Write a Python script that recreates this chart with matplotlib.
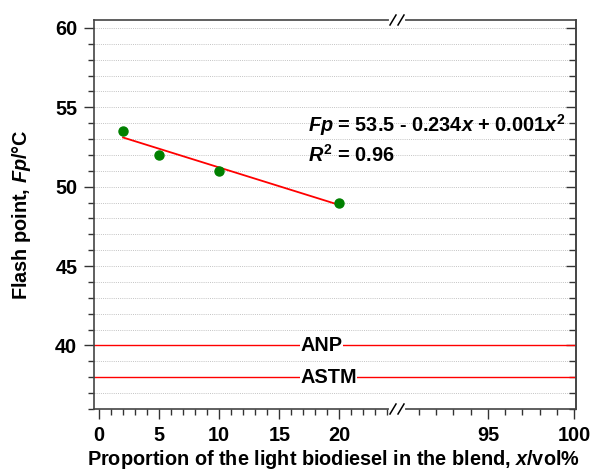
import numpy as np
import matplotlib
matplotlib.use('Agg')
import matplotlib.pyplot as plt
from matplotlib.ticker import FixedLocator, NullFormatter

plt.rcParams['font.family'] = ['Liberation Sans', 'DejaVu Sans']
plt.rcParams['font.weight'] = 'bold'
plt.rcParams['mathtext.fontset'] = 'custom'
plt.rcParams['mathtext.rm'] = 'Liberation Sans:bold'
plt.rcParams['mathtext.it'] = 'Liberation Sans:italic:bold'
plt.rcParams['mathtext.bf'] = 'Liberation Sans:bold'

# measured data
x_data = [2, 5, 10, 20]
fp_data = [53.5, 52.0, 51.0, 49.0]
# fitted line as drawn (end points)
fit_x = [2, 20]
fit_y = [53.1, 48.85]
# limits
anp_limit = 40
astm_limit = 38
x_major = [0, 5, 10, 15, 20, 95, 100]
x_major_labels = ['0', '5', '10', '15', '20', '95', '100']
y_major = [40, 45, 50, 55, 60]

# broken x axis: 0..24.75 then 89.7..100 (stretched)
brk_lo, brk_hi, stretch = 24.75, 89.7, 1.437

def fwd(x):
	x = np.asarray(x, dtype=float)
	return np.where(x <= brk_lo, x, brk_lo + (x - brk_hi) * stretch)

def inv(u):
	u = np.asarray(u, dtype=float)
	return np.where(u <= brk_lo, u, brk_hi + (u - brk_lo) / stretch)

fs = 14.3
fig = plt.figure(figsize=(5.92, 4.74), dpi=100)
ax = fig.add_axes([94/592, 1-409/474, 482/592, 389/474])
ax.set_xscale('function', functions=(fwd, inv))
ax.set_xlim(-0.42, 100.1)
ax.set_ylim(36, 60.5)

# grid
for yy in range(37, 61):
	ax.axhline(yy, color='#c4c4c4', lw=0.7, ls=(0, (1, 1.2)), zorder=0)

ax.axhline(anp_limit, color='red', lw=1.0, zorder=1)
ax.axhline(astm_limit, color='red', lw=1.0, zorder=1)
ax.text(16.75, anp_limit, 'ANP', fontsize=fs, fontweight='bold', va='center', ha='left',
	bbox=dict(facecolor='white', edgecolor='none', pad=0.3), zorder=2)
ax.text(16.75, astm_limit, 'ASTM', fontsize=fs, fontweight='bold', va='center', ha='left',
	bbox=dict(facecolor='white', edgecolor='none', pad=0.3), zorder=2)

ax.plot(fit_x, fit_y, color='red', lw=1.3, zorder=3)
ax.plot(x_data, fp_data, 'o', color='#008000', ms=6.5, zorder=4)

ax.text(17.4, 53.9, '$Fp$ = 53.5 - 0.234$x$ + 0.001$x^2$', fontsize=fs, va='center', ha='left')
ax.text(17.4, 52.0, '$R^2$ = 0.96', fontsize=fs, va='center', ha='left')

# ticks
minor_x = [v for v in range(1, 25) if v % 5] + [91, 92, 93, 94, 96, 97, 98, 99]
ax.xaxis.set_major_locator(FixedLocator(x_major))
ax.xaxis.set_minor_locator(FixedLocator(minor_x))
ax.set_xticklabels(x_major_labels)
ax.xaxis.set_minor_formatter(NullFormatter())
ax.yaxis.set_major_locator(FixedLocator(y_major))
ax.yaxis.set_minor_locator(FixedLocator(list(range(36, 61))))
ax.tick_params(axis='both', which='major', labelsize=fs, length=7, width=1.0, color='#333333', direction='out')
ax.tick_params(axis='both', which='minor', length=4, width=1.0, color='#333333', direction='out')
ax.tick_params(axis='x', which='both', top=False)
ax.tick_params(axis='y', which='both', right=False)
ax.tick_params(axis='x', pad=5)
ax.tick_params(axis='y', pad=5)

sec = ax.secondary_yaxis('right')
sec.yaxis.set_major_locator(FixedLocator(y_major))
sec.yaxis.set_minor_locator(FixedLocator(list(range(36, 61))))
sec.tick_params(which='major', direction='in', length=7, width=1.0, color='#333333', labelright=False)
sec.tick_params(which='minor', direction='in', length=5, width=1.0, color='#333333')
sec.spines['right'].set_color('#444444')
sec.spines['right'].set_linewidth(1.2)

for s in ax.spines.values():
	s.set_color('#444444')
	s.set_linewidth(1.2)

ax.set_ylabel('Flash point, $Fp$/°C', fontsize=fs, fontweight='bold')
ax.yaxis.set_label_coords(-0.127, 0.5)
ax.set_xlabel('Proportion of the light biodiesel in the blend, $x$/vol%', fontsize=fs, fontweight='bold')
ax.xaxis.set_label_coords(0.496, -0.1)

# break marks on top and bottom spines
bx = (397 - 94) / 482
dx, hw, hh = 8/482, 3/482, 5/389
for yb in (0, 1):
	ax.plot([bx - dx/2 - hw + 0.002, bx + dx/2 + hw - 0.002], [yb, yb], color='white', lw=3,
		transform=ax.transAxes, clip_on=False, zorder=5)
	for cx in (bx - dx/2, bx + dx/2):
		ax.plot([cx - hw, cx + hw], [yb - hh, yb + hh], color='black', lw=1.1,
			transform=ax.transAxes, clip_on=False, zorder=6)

plt.savefig('out.png', dpi=100)
